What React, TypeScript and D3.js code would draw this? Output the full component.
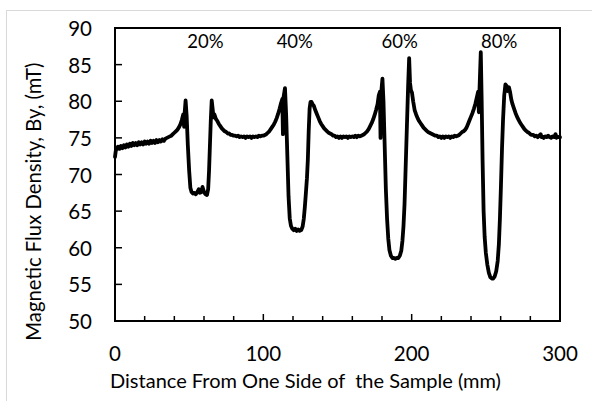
import React from "react";
import * as d3 from "d3";

// Distance from one side of the sample (mm)
const distance = [
  0, 0.5, 1, 2, 3, 4, 5, 6, 7, 8, 9, 10, 11, 12, 13, 14, 15, 16, 17, 18, 19, 20,
  21, 22, 23, 24, 25, 26, 27, 28, 29, 30, 31, 32, 33, 34, 35, 36, 37, 38, 39, 40,
  41, 42, 43, 44, 45, 46, 46.6, 47.0, 47.6, 48.3, 49.1, 50, 50.8, 51.6, 52.5,
  53.5, 54.5, 55.5, 56.5, 57.3, 58.2, 59, 60, 61, 62, 62.8, 63.4, 64, 64.6, 65.2,
  65.8, 66.4, 67, 68, 69, 70, 71, 72, 73, 74, 75, 76, 77, 78, 79, 80, 81, 82, 83,
  84, 85, 86, 87, 88, 89, 90, 91, 92, 93, 94, 95, 96, 97, 98, 99, 100, 101, 102,
  103, 104, 105, 106, 107, 108, 109, 110, 111, 112, 112.8, 113.2, 113.6, 114.6,
  115.4, 116.2, 117, 117.8, 118.6, 119.5, 120.5, 121.5, 122.5, 123.5, 124.5,
  125.5, 126.5, 127.3, 128, 128.7, 129.4, 130, 130.6, 131.2, 131.8, 132.5, 133.2,
  134, 135, 136, 137, 138, 139, 140, 141, 142, 143, 144, 145, 146, 147, 148, 149,
  150, 151, 152, 153, 154, 155, 156, 157, 158, 159, 160, 161, 162, 163, 164, 165,
  166, 167, 168, 169, 170, 171, 172, 173, 174, 175, 176, 177, 177.8, 178.6, 179,
  179.4, 180.3, 181, 181.8, 182.6, 183.4, 184.2, 185, 186, 187, 188, 189, 190,
  191, 192, 193, 193.8, 194.5, 195.2, 195.8, 196.4, 197, 197.6, 198.3, 198.9,
  199.5, 200.2, 201, 202, 203, 204, 205, 206, 207, 208, 209, 210, 211, 212, 213,
  214, 215, 216, 217, 218, 219, 220, 221, 222, 223, 224, 225, 226, 227, 228, 229,
  230, 231, 232, 233, 234, 235, 236, 237, 238, 239, 240, 241, 242, 243, 244,
  244.8, 245.3, 245.8, 246.6, 247.2, 247.8, 248.5, 249.2, 250, 251, 252, 253, 254,
  255, 256, 257, 258, 258.8, 259.5, 260.2, 260.9, 261.6, 262.4, 263.2, 264,
  264.8, 265.6, 266.4, 267.2, 268, 269, 270, 271, 272, 273, 274, 275, 276, 277,
  278, 279, 280, 281, 282, 283, 284, 285, 286, 287, 287.6, 288, 289, 290, 291,
  292, 293, 294, 295, 296, 297, 297.6, 298, 299, 300,
];

// Magnetic flux density By (mT)
const fluxDensity = [
  72.4, 73.2, 73.5, 73.8, 73.5, 73.9, 73.6, 74.0, 73.7, 74.1, 73.8, 74.2, 73.9,
  74.3, 74.0, 74.3, 74.0, 74.4, 74.1, 74.4, 74.1, 74.5, 74.2, 74.5, 74.2, 74.6,
  74.3, 74.6, 74.3, 74.7, 74.4, 74.7, 74.5, 74.8, 74.6, 74.9, 75.0, 75.1, 75.2,
  75.3, 75.5, 75.7, 75.9, 76.1, 76.4, 76.8, 77.4, 78.2, 76.5, 78.5, 80.1, 78.0,
  74.0, 70.5, 68.2, 67.6, 67.4, 67.5, 67.3, 67.6, 68.0, 67.5, 67.6, 68.3, 67.6,
  67.3, 67.2, 68.0, 70.5, 74.0, 77.5, 80.1, 79.0, 77.8, 78.2, 77.6, 77.3, 76.9,
  76.6, 76.3, 76.1, 75.9, 75.8, 75.6, 75.6, 75.4, 75.4, 75.3, 75.3, 75.2, 75.3,
  75.1, 75.2, 75.1, 75.2, 75.0, 75.2, 75.1, 75.2, 75.0, 75.2, 75.1, 75.2, 75.1,
  75.3, 75.2, 75.3, 75.3, 75.4, 75.5, 75.7, 75.9, 76.2, 76.5, 76.8, 77.2, 77.7,
  78.3, 79.0, 79.8, 80.3, 75.5, 80.5, 81.8, 78.0, 72.5, 67.0, 64.0, 63.0, 62.6,
  62.4, 62.6, 62.3, 62.5, 62.3, 62.4, 62.9, 64.0, 65.6, 67.5, 69.5, 72.0, 76.0,
  79.0, 79.9, 79.9, 79.6, 79.4, 78.8, 78.3, 77.8, 77.3, 76.9, 76.6, 76.3, 76.1,
  75.9, 75.7, 75.6, 75.5, 75.3, 75.3, 75.1, 75.2, 75.0, 75.2, 75.0, 75.2, 75.1,
  75.2, 75.0, 75.2, 75.1, 75.2, 75.1, 75.3, 75.1, 75.3, 75.2, 75.3, 75.4, 75.5,
  75.7, 75.9, 76.2, 76.6, 77.0, 77.5, 78.1, 78.8, 79.6, 80.8, 81.3, 75.0, 81.0,
  83.1, 80.0, 74.0, 68.0, 64.0, 61.3, 59.7, 58.9, 58.6, 58.6, 58.5, 58.6, 58.6,
  58.9, 59.6, 61.0, 63.0, 66.0, 70.0, 74.0, 78.0, 82.0, 85.9, 82.5, 81.5, 81.2,
  80.0, 78.8, 78.2, 77.7, 77.3, 77.0, 76.7, 76.4, 76.2, 76.0, 75.8, 75.7, 75.6,
  75.5, 75.4, 75.3, 75.3, 75.1, 75.2, 75.0, 75.2, 75.0, 75.2, 75.1, 75.2, 75.0,
  75.2, 75.1, 75.3, 75.2, 75.3, 75.4, 75.6, 75.8, 75.9, 76.1, 76.4, 76.9, 77.4,
  77.9, 78.4, 79.0, 79.7, 80.6, 81.3, 78.5, 82.0, 86.7, 80.0, 72.0, 65.0, 61.5,
  59.3, 57.7, 56.6, 56.0, 55.8, 55.8, 56.1, 56.8, 58.2, 60.5, 64.0, 68.5, 73.5,
  77.5, 80.8, 82.3, 82.1, 81.4, 81.9, 81.2, 80.2, 79.6, 79.0, 78.4, 77.9, 77.5,
  77.1, 76.8, 76.5, 76.2, 76.0, 75.8, 75.7, 75.5, 75.4, 75.4, 75.2, 75.3, 75.1,
  75.3, 75.5, 75.1, 75.2, 75.0, 75.2, 75.1, 75.3, 75.1, 75.0, 75.2, 75.1, 75.5,
  75.0, 75.2, 75.1, 75.1,
];

const xMajorTicks = [0, 100, 200, 300];
const xMinorTicks = [20, 40, 60, 80, 120, 140, 160, 180, 220, 240, 260, 280];
const yTicks = [50, 55, 60, 65, 70, 75, 80, 85, 90];

const depthLabels = ["20%", "40%", "60%", "80%"];
const depthLabelX = [60.9, 121.2, 191.9, 259.0];
const depthLabelY = 88.2;

const xTitle = "Distance From One Side of\u00a0 the Sample (mm)";
const yTitle = "Magnetic Flux Density, By, (mT)";

export default function App() {
  const W = 592;
  const H = 401;
  const x = d3.scaleLinear().domain([0, 300]).range([115, 560]);
  const y = d3.scaleLinear().domain([50, 90]).range([321, 28]);
  const points: [number, number][] = distance.map((d, i) => [d, fluxDensity[i]]);
  const line = d3
    .line<[number, number]>()
    .x((d) => x(d[0]))
    .y((d) => y(d[1]))
    .curve(d3.curveLinear);
  const font = "Lato, 'Open Sans', sans-serif";
  const [x0, x1] = x.range();
  const [y0, y1] = y.range();

  return (
    <svg
      width={W}
      height={H}
      style={{ position: "absolute", left: 0, top: 0, background: "#fff" }}
      fontFamily={font}
    >
      <rect x={0} y={0} width={W} height={H} fill="#fff" />
      <rect x={6.5} y={10.5} width={700} height={500} fill="#fff" stroke="#d9d9d9" strokeWidth={1} />

      {/* plot frame */}
      <rect x={x0} y={y1} width={x1 - x0} height={y0 - y1} fill="none" stroke="#000" strokeWidth={2} />

      {/* y ticks */}
      {yTicks.map((t) => (
        <g key={"y" + t}>
          <line x1={x0} x2={x0 + 7} y1={y(t)} y2={y(t)} stroke="#000" strokeWidth={1.5} />
          <text x={92} y={y(t)} textAnchor="end" dominantBaseline="central" fontSize={20.5} fill="#000">
            {t}
          </text>
        </g>
      ))}

      {/* x ticks */}
      {xMinorTicks.map((t) => (
        <line key={"xm" + t} x1={x(t)} x2={x(t)} y1={y0} y2={y0 - 5} stroke="#000" strokeWidth={1.5} />
      ))}
      {xMajorTicks.map((t) => (
        <g key={"x" + t}>
          <line x1={x(t)} x2={x(t)} y1={y0} y2={y0 - 7} stroke="#000" strokeWidth={1.5} />
          <text x={x(t)} y={352.5} textAnchor="middle" dominantBaseline="central" fontSize={20.5} fill="#000">
            {t}
          </text>
        </g>
      ))}

      {/* data line */}
      <path d={line(points) ?? ""} fill="none" stroke="#000" strokeWidth={3.8} strokeLinejoin="round" strokeLinecap="round" />

      {/* depth labels */}
      {depthLabels.map((l, i) => (
        <text
          key={l}
          x={x(depthLabelX[i])}
          y={y(depthLabelY)}
          textAnchor="middle"
          dominantBaseline="central"
          fontSize={18.5}
          fill="#000"
        >
          {l}
        </text>
      ))}

      {/* axis titles */}
      <text x={305.5} y={380} textAnchor="middle" dominantBaseline="central" fontSize={20} fill="#000">
        {xTitle}
      </text>
      <text
        transform={`translate(33.3, 201.7) rotate(-90)`}
        textAnchor="middle"
        dominantBaseline="central"
        fontSize={20.3}
        fill="#000"
      >
        {yTitle}
      </text>
    </svg>
  );
}
